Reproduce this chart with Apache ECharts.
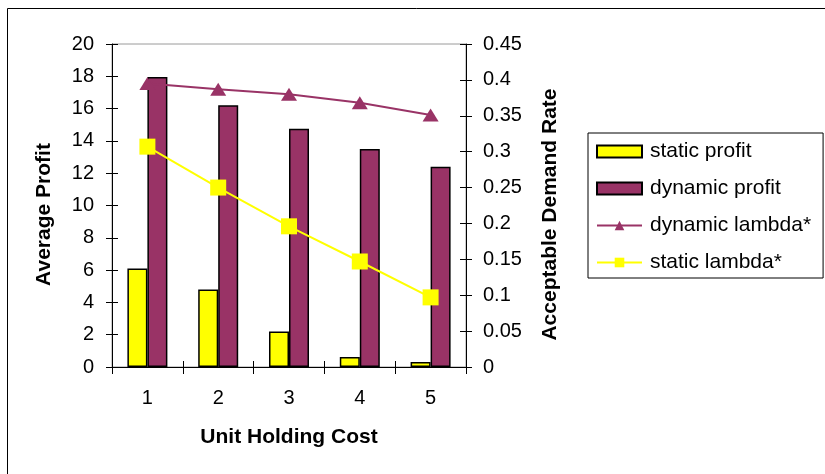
<!DOCTYPE html>
<html>
<head>
<meta charset="utf-8">
<script src="https://cdn.jsdelivr.net/npm/echarts@6/dist/echarts.min.js"></script>
<style>
  html, body { margin: 0; padding: 0; background: #fff; }
  #chart { width: 825px; height: 474px; }
</style>
</head>
<body>
<div id="chart"></div>
<script>
// Unit holding cost categories
const categories = ['1', '2', '3', '4', '5'];
// Average profit (left axis)
const staticProfit = [6.1, 4.8, 2.2, 0.62, 0.31];
const dynamicProfit = [17.95, 16.2, 14.75, 13.5, 12.4];
// Acceptable demand rate (right axis)
const dynamicLambda = [0.395, 0.387, 0.380, 0.368, 0.351];
const staticLambda = [0.307, 0.250, 0.196, 0.147, 0.097];

const FONT = '"Liberation Sans", Arial, sans-serif';
const AXIS_COLOR = '#000';
const TICK_FONT = 20;
const TITLE_FONT = 21;

const chart = echarts.init(document.getElementById('chart'), null, { renderer: 'canvas' });

const valueAxisBase = {
  type: 'value',
  splitLine: { show: false },
  axisLine: { show: true, lineStyle: { color: AXIS_COLOR, width: 1 } },
  axisTick: { show: true, length: 6, lineStyle: { color: AXIS_COLOR } }
};

const titleStyle = {
  fontSize: TITLE_FONT, fontWeight: 'bold', color: '#000', fontFamily: FONT
};

chart.setOption({
  animation: false,
  backgroundColor: '#fff',
  textStyle: { fontFamily: FONT },
  graphic: [{
    type: 'rect',
    shape: { x: 7.5, y: 8.5, width: 900, height: 600 },
    style: { fill: 'none', stroke: '#000', lineWidth: 1 },
    z: -10
  }],
  grid: {
    left: 112, right: 359, top: 44, bottom: 107,
    show: true, borderColor: '#9a9a9a', borderWidth: 1,
    outerBoundsMode: 'none'
  },
  legend: {
    orient: 'vertical',
    left: 588, top: 133,
    padding: [8, 12, 5, 8],
    itemGap: 16,
    itemWidth: 45,
    itemHeight: 12,
    backgroundColor: '#fff',
    borderColor: '#000',
    borderWidth: 1,
    textStyle: { fontFamily: FONT, fontSize: 21, color: '#000', padding: [0, 0, 0, 3] },
    data: [
      { name: 'static profit', icon: 'rect' },
      { name: 'dynamic profit', icon: 'rect' },
      { name: 'dynamic lambda*' },
      { name: 'static lambda*' }
    ]
  },
  xAxis: [{
    type: 'category',
    data: categories,
    position: 'bottom',
    boundaryGap: true,
    axisLine: { show: true, lineStyle: { color: AXIS_COLOR } },
    axisTick: { show: true, alignWithLabel: false, length: 7, lineStyle: { color: AXIS_COLOR } },
    axisLabel: { fontSize: TICK_FONT, color: '#000', fontFamily: FONT, margin: 21 },
    name: 'Unit Holding Cost',
    nameLocation: 'middle',
    nameGap: 60,
    nameTextStyle: titleStyle
  }, {
    // inner half of the crossing tick marks
    type: 'category',
    data: categories,
    position: 'bottom',
    boundaryGap: true,
    axisLine: { show: false },
    axisTick: { show: true, inside: true, alignWithLabel: false, length: 6, lineStyle: { color: AXIS_COLOR } },
    axisLabel: { show: false }
  }],
  yAxis: [Object.assign({}, valueAxisBase, {
    position: 'left',
    min: 0, max: 20, interval: 2,
    axisLabel: { fontSize: TICK_FONT, color: '#000', fontFamily: FONT, margin: 18 },
    name: 'Average Profit',
    nameLocation: 'middle',
    nameGap: 57,
    nameTextStyle: Object.assign({ padding: [0, 18, 0, 0] }, titleStyle)
  }), Object.assign({}, valueAxisBase, {
    position: 'right',
    min: 0, max: 0.45, interval: 0.05,
    axisLabel: { fontSize: TICK_FONT, color: '#000', fontFamily: FONT, margin: 17 },
    name: 'Acceptable Demand Rate',
    nameLocation: 'middle',
    nameGap: 74,
    nameTextStyle: Object.assign({ padding: [0, 18, 0, 0] }, titleStyle)
  }), Object.assign({}, valueAxisBase, {
    position: 'left',
    min: 0, max: 20, interval: 2,
    axisLine: { show: false },
    axisTick: { show: true, inside: true, length: 6, lineStyle: { color: AXIS_COLOR } },
    axisLabel: { show: false }
  }), Object.assign({}, valueAxisBase, {
    position: 'right',
    min: 0, max: 0.45, interval: 0.05,
    axisLine: { show: false },
    axisTick: { show: true, inside: true, length: 6, lineStyle: { color: AXIS_COLOR } },
    axisLabel: { show: false }
  })],
  series: [{
    name: 'static profit',
    type: 'bar',
    xAxisIndex: 0, yAxisIndex: 0,
    data: staticProfit,
    barWidth: 20,
    barGap: '0%',
    itemStyle: { color: '#FFFF00', borderColor: '#000', borderWidth: 1.5 }
  }, {
    name: 'dynamic profit',
    type: 'bar',
    xAxisIndex: 0, yAxisIndex: 0,
    data: dynamicProfit,
    barWidth: 20,
    barGap: '0%',
    itemStyle: { color: '#993366', borderColor: '#000', borderWidth: 1.5 }
  }, {
    name: 'dynamic lambda*',
    type: 'line',
    xAxisIndex: 0, yAxisIndex: 1,
    data: dynamicLambda,
    symbol: 'triangle',
    symbolSize: [16, 13],
    showAllSymbol: true,
    lineStyle: { color: '#993366', width: 2 },
    itemStyle: { color: '#993366', borderWidth: 0 },
    z: 5
  }, {
    name: 'static lambda*',
    type: 'line',
    xAxisIndex: 0, yAxisIndex: 1,
    data: staticLambda,
    symbol: 'rect',
    symbolSize: 16,
    showAllSymbol: true,
    lineStyle: { color: '#FFFF00', width: 2 },
    itemStyle: { color: '#FFFF00', borderWidth: 0 },
    z: 5
  }]
});
</script>
</body>
</html>
